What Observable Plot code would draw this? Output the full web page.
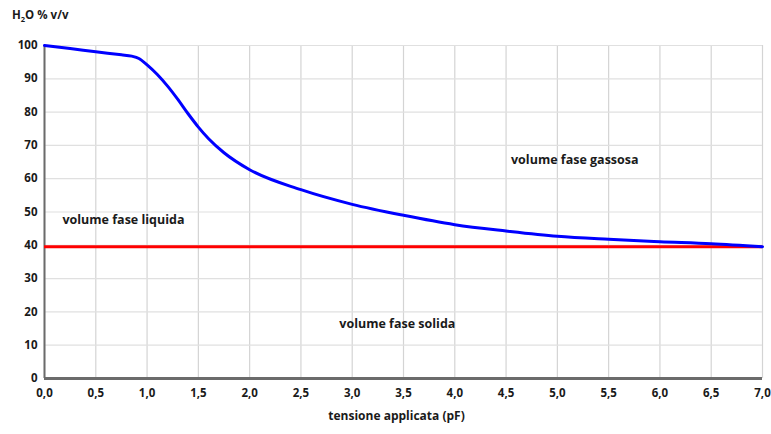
<!DOCTYPE html>
<html><head><meta charset="utf-8">
<script src="https://cdn.jsdelivr.net/npm/d3@7"></script>
<script src="https://cdn.jsdelivr.net/npm/@observablehq/plot@0.6"></script>
<style>body{margin:0;background:#fff;font-family:"Open Sans",sans-serif}</style>
</head><body><div id="chart"></div>
<script>
const pfValues = [0, 0.25, 0.5, 0.75, 0.85, 0.92, 1.0, 1.1, 1.2, 1.3, 1.4, 1.5, 1.6, 1.75, 2.0, 2.5, 3.0, 3.5, 4.0, 4.5, 5.0, 5.5, 6.0, 6.5, 7.0];
const waterValues = [100, 99.1, 98.1, 97.2, 96.8, 96.1, 94.2, 91.3, 87.8, 83.8, 79.5, 75.5, 72, 67.8, 62.7, 56.7, 52.3, 49, 46.2, 44.3, 42.7, 41.8, 41.1, 40.5, 39.6];
const solidLevel = 39.6;
const xTicks = [0, 0.5, 1, 1.5, 2, 2.5, 3, 3.5, 4, 4.5, 5, 5.5, 6, 6.5, 7];
const yTicks = [0, 10, 20, 30, 40, 50, 60, 70, 80, 90, 100];
const regionLabels = ["volume fase gassosa", "volume fase liquida", "volume fase solida"];
const regionX = [5.17, 0.77, 3.44];
const regionY = [65.5, 47.7, 16.5];

const curve = pfValues.map((x, i) => ({x, y: waterValues[i]}));
const regions = regionLabels.map((t, i) => ({t, x: regionX[i], y: regionY[i]}));
const fmt = d => d.toFixed(1).replace(".", ",");

const plot = Plot.plot({
  width: 771, height: 434,
  marginLeft: 44, marginRight: 9, marginTop: 45, marginBottom: 56,
  style: {fontFamily: "Open Sans", fontSize: "11.5px", fontWeight: "bold", color: "#1a1a1a"},
  x: {domain: [0, 7], ticks: xTicks, tickFormat: fmt, label: null},
  y: {domain: [0, 100], ticks: yTicks, label: null},
  marks: [
    Plot.gridX(xTicks, {stroke: "#d4d4d4", strokeOpacity: 1, strokeWidth: 1.2}),
    Plot.gridY(yTicks, {stroke: "#e0e0e0", strokeOpacity: 1, strokeWidth: 1.2}),
    Plot.axisX({ticks: xTicks, tickFormat: fmt, tickSize: 0, tickPadding: 10, fontWeight: "bold", fontSize: 11.5}),
    Plot.axisY({ticks: yTicks, tickSize: 0, tickPadding: 7, fontWeight: "bold", fontSize: 11.5}),
    Plot.ruleX([0], {stroke: "#6b6b6b", strokeWidth: 2}),
    Plot.ruleY([0], {stroke: "#6b6b6b", strokeWidth: 3}),
    Plot.ruleY([solidLevel], {stroke: "#ff0000", strokeWidth: 3}),
    Plot.line(curve, {x: "x", y: "y", stroke: "#0000ff", strokeWidth: 3, curve: "monotone-x"}),
    Plot.text(regions, {x: "x", y: "y", text: "t", fontSize: 12.5, fontWeight: "bold", fill: "#1a1a1a"}),
    Plot.text(["tensione applicata (pF)"], {frameAnchor: "bottom", dy: 41, dx: -7, fontSize: 12, fontWeight: "bold", fill: "#1a1a1a"})
  ]
});
const svg = d3.select(plot);
const t = svg.append("text").attr("x", 12).attr("y", 19).attr("text-anchor", "start")
  .attr("font-family", "Open Sans").attr("font-size", 11.5).attr("font-weight", "bold").attr("fill", "#1a1a1a");
t.append("tspan").text("H");
t.append("tspan").attr("font-size", 7.5).attr("dy", 3).text("2");
t.append("tspan").attr("dy", -3).text("O % v/v");
document.getElementById("chart").appendChild(plot);
</script></body></html>
